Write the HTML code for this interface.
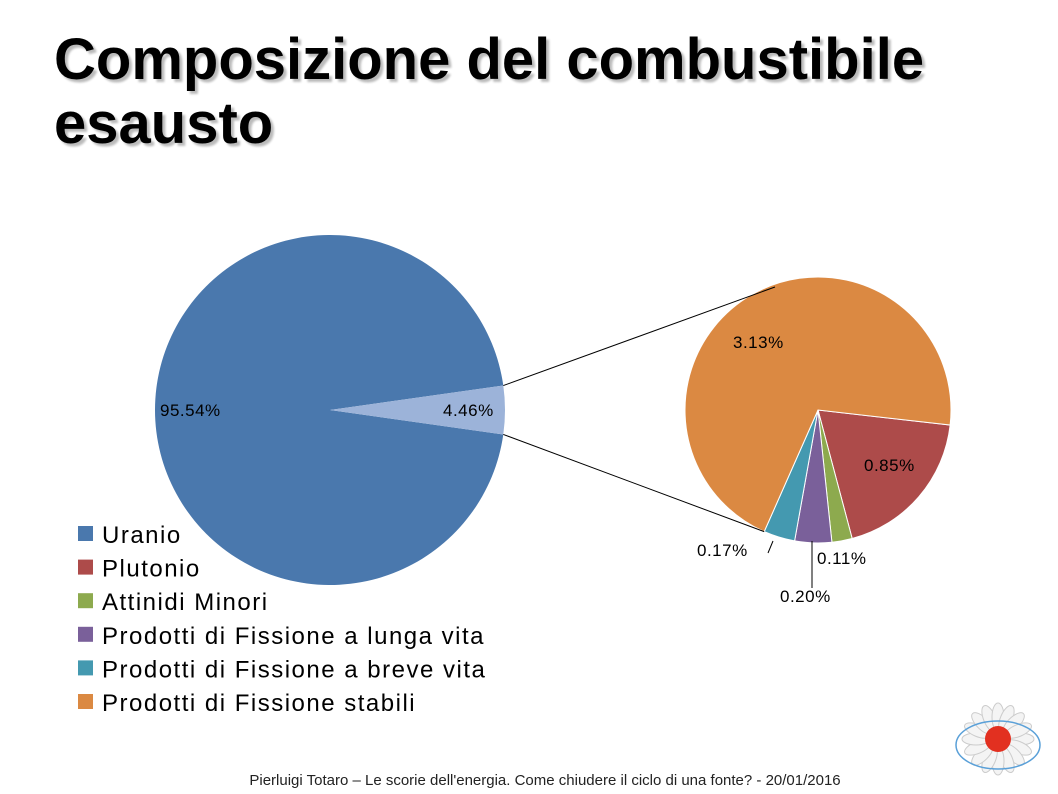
<!DOCTYPE html>
<html><head><meta charset="utf-8"><style>
body{margin:0;width:1058px;height:794px;background:#fff;overflow:hidden;font-family:"Liberation Sans",sans-serif;position:relative}
#title{position:absolute;left:54px;top:28px;font-size:58px;font-weight:bold;line-height:64px;color:#000;text-shadow:3px 3px 2px #bbb;letter-spacing:0px}
#footer{position:absolute;left:0;width:1090px;top:772px;text-align:center;font-size:15px;color:#222}
svg{position:absolute;left:0;top:0}
</style></head><body>
<div id="title">Composizione del combustibile<br>esausto</div>
<svg id="chart" width="1058" height="794"></svg>
<div id="footer">Pierluigi Totaro – Le scorie dell'energia. Come chiudere il ciclo di una fonte? - 20/01/2016</div>
<script>
const mainCats=["Uranio","Altri"];
const mainVals=[95.54,4.46];
const subCats=["Plutonio","Attinidi Minori","Prodotti di Fissione a lunga vita","Prodotti di Fissione a breve vita","Prodotti di Fissione stabili"];
const subVals=[0.85,0.11,0.20,0.17,3.13];
const subLabels=["0.85%","0.11%","0.20%","0.17%","3.13%"];
const legendCats=["Uranio","Plutonio","Attinidi Minori","Prodotti di Fissione a lunga vita","Prodotti di Fissione a breve vita","Prodotti di Fissione stabili"];
const colors=["#4A78AD","#AD4B4A","#8DAA4E","#7A609A","#4499B0","#DB8942"];
const NS="http://www.w3.org/2000/svg";
const svg=document.getElementById('chart');
function mk(t,a,p){const e=document.createElementNS(NS,t);for(const k in a)e.setAttribute(k,a[k]);(p||svg).appendChild(e);return e;}
function pt(cx,cy,r,a){return [cx+r*Math.cos(a*Math.PI/180),cy+r*Math.sin(a*Math.PI/180)];}
function arc(cx,cy,r,a0,a1){const p0=pt(cx,cy,r,a0),p1=pt(cx,cy,r,a1);return `M${cx},${cy}L${p0[0]},${p0[1]}A${r},${r} 0 ${a1-a0>180?1:0} 1 ${p1[0]},${p1[1]}Z`;}
const mcx=330,mcy=410,mr=175;
const mainTot=mainVals.reduce((a,b)=>a+b,0);
const otherSpan=mainVals[1]/mainTot*360;
let e=mk('path',{d:arc(mcx,mcy,mr,otherSpan/2,360-otherSpan/2),fill:colors[0]});

e=mk('path',{d:arc(mcx,mcy,mr,-otherSpan/2,otherSpan/2),fill:"#9CB3D9"});

e=mk('text',{x:160,y:416,'font-size':17,fill:'#000','letter-spacing':0.5});e.textContent=mainVals[0].toFixed(2)+"%";

e=mk('text',{x:443,y:416,'font-size':17,fill:'#000','letter-spacing':0.5});e.textContent=mainVals[1].toFixed(2)+"%";

const scx=818,scy=410,sr=133;
const subTot=subVals.reduce((a,b)=>a+b,0);
let a=6.5;
const ang=[];
subVals.forEach((v,i)=>{const sp=v/subTot*360;ang.push([a,a+sp]);
 const p=mk('path',{d:arc(scx,scy,sr,a,a+sp),fill:colors[i+1],stroke:'#fff','stroke-width':1});
 
 a+=sp;});
const pa=pt(mcx,mcy,mr,-otherSpan/2),pb=pt(mcx,mcy,mr,otherSpan/2);
e=mk('line',{x1:pa[0],y1:pa[1],x2:775,y2:287,stroke:'#000','stroke-width':1});

const tEnd=pt(scx,scy,sr,ang[3][1]);
e=mk('line',{x1:pb[0],y1:pb[1],x2:tEnd[0],y2:tEnd[1],stroke:'#000','stroke-width':1});

const lp=[[864,471],[817,564],[780,602],[697,556],[733,348]];
subLabels.forEach((t,i)=>{const x=mk('text',{x:lp[i][0],y:lp[i][1],'font-size':17,fill:'#000','letter-spacing':0.5});x.textContent=t;
 });
mk('line',{x1:812,y1:541,x2:812,y2:588,stroke:'#000'});
mk('line',{x1:773,y1:541,x2:768,y2:553,stroke:'#000'});
legendCats.forEach((c,i)=>{const y=534+i*33.6;
 const g=mk('g',{});
 mk('rect',{x:78,y:y-8,width:15,height:15,fill:colors[i]},g);
 const t=mk('text',{x:102,y:y+9,'font-size':24,fill:'#000','letter-spacing':1.5},g);t.textContent=c;});
const lg=mk('g',{});
for(let k=0;k<16;k++){const q=pt(998,739,22,k*22.5);mk('ellipse',{cx:q[0],cy:q[1],rx:14,ry:6,fill:'#f4f4f4',stroke:'#ccc',transform:`rotate(${k*22.5} ${q[0]} ${q[1]})`},lg);}
mk('circle',{cx:998,cy:739,r:13,fill:'#e23020'},lg);
mk('ellipse',{cx:998,cy:745,rx:42,ry:24,fill:'none',stroke:'#5aa0d8','stroke-width':1.5},lg);
</script>
</body></html>
